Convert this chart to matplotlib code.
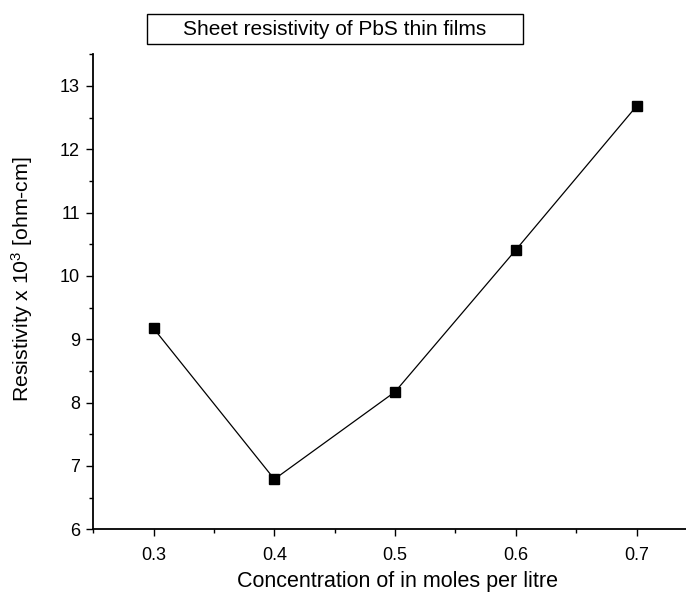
import matplotlib
matplotlib.use("Agg")
import matplotlib.pyplot as plt
from matplotlib.patches import Rectangle
from matplotlib.ticker import MultipleLocator

concentration = [0.3, 0.4, 0.5, 0.6, 0.7]
resistivity = [9.17, 6.79, 8.17, 10.41, 12.68]

plt.rcParams['font.family'] = ['Liberation Sans', 'DejaVu Sans']
plt.rcParams['mathtext.fontset'] = 'custom'
plt.rcParams['mathtext.rm'] = 'Liberation Sans'
plt.rcParams['mathtext.it'] = 'Liberation Sans:italic'
plt.rcParams['mathtext.bf'] = 'Liberation Sans:bold'

fig = plt.figure(figsize=(6.86, 5.96), dpi=100)
ax = fig.add_axes([0.136, 0.112, 0.864, 0.797])

ax.plot(concentration, resistivity, color='black', linewidth=0.9,
        marker='s', markersize=6.5, markerfacecolor='black', markeredgecolor='black')

ax.set_xlim(0.25, 0.741)
ax.set_ylim(6, 13.5)
ax.xaxis.set_major_locator(MultipleLocator(0.1))
ax.xaxis.set_minor_locator(MultipleLocator(0.05))
ax.yaxis.set_major_locator(MultipleLocator(1))
ax.yaxis.set_minor_locator(MultipleLocator(0.5))
ax.tick_params(which='major', direction='out', length=5, width=1, labelsize=13)
ax.tick_params(which='minor', direction='out', length=3, width=1)
ax.tick_params(axis='x', which='major', pad=7.5)
ax.tick_params(axis='y', which='major', pad=4.5)

ax.spines['top'].set_visible(False)
ax.spines['right'].set_visible(False)
ax.spines['left'].set_linewidth(1.3)
ax.spines['bottom'].set_linewidth(1.3)

ax.set_xlabel("Concentration of in moles per litre", fontsize=15.5)
ax.set_ylabel("Resistivity x 10$\\mathrm{^3}$ [ohm-cm]", fontsize=15.3)
ax.xaxis.set_label_coords(0.514, -0.088)
ax.yaxis.set_label_coords(-0.098, 0.527)

# title in a box
fig.patches.append(Rectangle((0.2143, 0.926), 0.548, 0.0505, transform=fig.transFigure,
                             facecolor='white', edgecolor='black', linewidth=1))
fig.text(0.488, 0.951, "Sheet resistivity of PbS thin films", fontsize=15,
         ha='center', va='center')

fig.savefig('out.png', dpi=100)
